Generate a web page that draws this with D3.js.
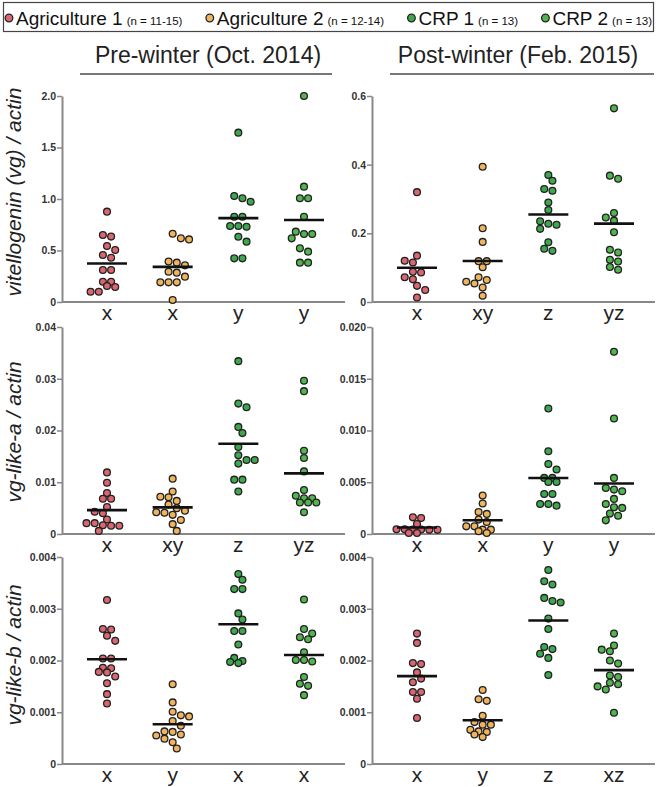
<!DOCTYPE html>
<html><head><meta charset="utf-8">
<script src="https://cdn.jsdelivr.net/npm/d3@7"></script>
<style>
body{margin:0;background:#fff}
svg{display:block;font-family:"Liberation Sans",Arial,sans-serif}
</style>
</head><body><svg id="c" width="658" height="787"></svg>
<script>
// ---------- data ----------
const groups = ["Agriculture 1", "Agriculture 2", "CRP 1", "CRP 2"];
const groupN = ["(n = 11-15)", "(n = 12-14)", "(n = 13)", "(n = 13)"];
const seasons = ["Pre-winter (Oct. 2014)", "Post-winter (Feb. 2015)"];
const genes = ["vitellogenin (vg) / actin", "vg-like-a / actin", "vg-like-b / actin"];

const vgPre = [
  [0.877,0.65,0.635,0.544,0.505,0.457,0.43,0.31,0.31,0.197,0.197,0.155,0.146,0.10,0.10],
  [0.663,0.618,0.608,0.392,0.382,0.356,0.294,0.285,0.246,0.191,0.191,0.191,0.02],
  [1.644,1.029,1.007,0.974,0.828,0.828,0.738,0.738,0.73,0.634,0.586,0.424,0.424],
  [2.0,1.12,1.007,1.007,0.828,0.683,0.66,0.66,0.618,0.521,0.489,0.382,0.382]
];
const vgPost = [
  [0.320,0.135,0.120,0.115,0.088,0.086,0.072,0.066,0.047,0.035,0.013],
  [0.394,0.215,0.175,0.119,0.119,0.101,0.072,0.064,0.059,0.054,0.042,0.018],
  [0.370,0.353,0.329,0.324,0.290,0.268,0.235,0.228,0.225,0.213,0.174,0.155,0.149],
  [0.564,0.368,0.359,0.259,0.246,0.237,0.203,0.152,0.144,0.123,0.118,0.102,0.094]
];
const likeAPre = [
  [0.0119,0.0099,0.0079,0.0068,0.0068,0.0052,0.0043,0.0040,0.0028,0.0021,0.0021,0.0017,0.0016,0.0016,0.0006],
  [0.0107,0.0082,0.0072,0.0071,0.0064,0.0057,0.0050,0.0045,0.0042,0.0041,0.0037,0.0027,0.0019,0.0006],
  [0.0334,0.0252,0.0245,0.0207,0.0195,0.0168,0.0152,0.0143,0.0143,0.0136,0.0105,0.0105,0.0082],
  [0.0296,0.0276,0.0161,0.0147,0.0121,0.0085,0.0074,0.0069,0.0069,0.0061,0.0061,0.0061,0.0042]
];
const likeAPost = [
  [0.00161,0.00155,0.00097,0.00046,0.00043,0.0004,0.0004,0.00043,0.00046,0.0001,0.0001],
  [0.00371,0.00294,0.00213,0.00194,0.00139,0.00116,0.00074,0.00074,0.00042,0.00042,0.00026,0.0001],
  [0.01213,0.008,0.00677,0.00623,0.00542,0.00542,0.00503,0.00503,0.00387,0.00387,0.0029,0.0029,0.00274],
  [0.01761,0.01116,0.00542,0.00445,0.00429,0.00413,0.00339,0.0029,0.00258,0.00252,0.00197,0.00177,0.00132]
];
const likeBPre = [
  [0.00317,0.00261,0.0026,0.00248,0.00238,0.00204,0.00204,0.00186,0.00185,0.00178,0.00177,0.00169,0.00156,0.00135,0.00117],
  [0.00154,0.00119,0.00101,0.00094,0.00092,0.00083,0.00074,0.00063,0.00062,0.00057,0.00055,0.00049,0.00042,0.0003],
  [0.00367,0.00356,0.00338,0.00338,0.00291,0.00279,0.00257,0.00257,0.00231,0.00205,0.00199,0.00197,0.00195],
  [0.00318,0.00261,0.00252,0.00245,0.00241,0.00216,0.00201,0.00201,0.00198,0.00168,0.00155,0.00151,0.00133]
];
const likeBPost = [
  [0.00252,0.00234,0.00195,0.00193,0.00177,0.00165,0.00158,0.00139,0.00139,0.00126,0.00089],
  [0.00143,0.00125,0.00122,0.00093,0.00081,0.00076,0.00076,0.00066,0.00063,0.00062,0.00057,0.00052],
  [0.00375,0.00353,0.00347,0.00321,0.00315,0.00312,0.00281,0.00261,0.00226,0.00222,0.00213,0.00205,0.00172],
  [0.00252,0.00229,0.00221,0.00218,0.002,0.00194,0.00171,0.00168,0.00157,0.00154,0.0015,0.00144,0.00099]
];

const ticksVgPre = [0, 0.5, 1.0, 1.5, 2.0];
const tickLabelsVgPre = ["0", "0.5", "1.0", "1.5", "2.0"];
const ticksVgPost = [0, 0.2, 0.4, 0.6];
const tickLabelsVgPost = ["0", "0.2", "0.4", "0.6"];
const ticksAPre = [0, 0.01, 0.02, 0.03, 0.04];
const tickLabelsAPre = ["0", "0.01", "0.02", "0.03", "0.04"];
const ticksAPost = [0, 0.005, 0.010, 0.015, 0.020];
const tickLabelsAPost = ["0", "0.005", "0.010", "0.015", "0.020"];
const ticksBPre = [0, 0.001, 0.002, 0.003, 0.004];
const tickLabelsBPre = ["0", "0.001", "0.002", "0.003", "0.004"];
const ticksBPost = [0, 0.001, 0.002, 0.003, 0.004];
const tickLabelsBPost = ["0", "0.001", "0.002", "0.003", "0.004"];

const lettersVgPre = ["x", "x", "y", "y"];
const lettersVgPost = ["x", "xy", "z", "yz"];
const lettersAPre = ["x", "xy", "z", "yz"];
const lettersAPost = ["x", "x", "y", "y"];
const lettersBPre = ["x", "y", "x", "x"];
const lettersBPost = ["x", "y", "z", "xz"];

// ---------- styles / layout ----------
const FONT = "'Liberation Sans', Arial, sans-serif";
const colors = ["#dc6670", "#f1b45c", "#3ca84e", "#52b64f"];
const colX = [62, 372];
const rowY = [[96, 302], [327, 534], [557, 764]];
const axisLen = 283;
const R = 3.4;

const panels = [
  {row:0, col:0, data:vgPre, ticks:ticksVgPre, labels:tickLabelsVgPre, letters:lettersVgPre},
  {row:0, col:1, data:vgPost, ticks:ticksVgPost, labels:tickLabelsVgPost, letters:lettersVgPost},
  {row:1, col:0, data:likeAPre, ticks:ticksAPre, labels:tickLabelsAPre, letters:lettersAPre},
  {row:1, col:1, data:likeAPost, ticks:ticksAPost, labels:tickLabelsAPost, letters:lettersAPost},
  {row:2, col:0, data:likeBPre, ticks:ticksBPre, labels:tickLabelsBPre, letters:lettersBPre},
  {row:2, col:1, data:likeBPost, ticks:ticksBPost, labels:tickLabelsBPost, letters:lettersBPost}
];

const svg = d3.select("#c").attr("font-family", FONT);

// ---------- legend ----------
svg.append("rect").attr("x", 3.5).attr("y", 2.5).attr("width", 650).attr("height", 29)
  .attr("fill", "none").attr("stroke", "#444").attr("stroke-width", 1.2);
const legItems = groups.map((g, i) => {
  const lg = svg.append("g");
  lg.append("circle").attr("cx", 0).attr("cy", 18).attr("r", 3.8)
    .attr("fill", colors[i]).attr("stroke", "#222").attr("stroke-width", 1.3);
  const t = lg.append("text").attr("x", 7).attr("y", 24.5).attr("fill", "#111").attr("font-family", FONT);
  t.append("tspan").attr("font-size", 19).text(g);
  t.append("tspan").attr("font-size", 11.5).attr("dx", 4).text(groupN[i]);
  return {g: lg, w: 7 + t.node().getComputedTextLength()};
});
{
  const startX = 9, endX = 648;
  const total = d3.sum(legItems, d => d.w);
  const gap = (endX - startX - total) / (legItems.length - 1);
  let cx = startX;
  legItems.forEach(it => { it.g.attr("transform", `translate(${cx},0)`); cx += it.w + gap; });
}

// ---------- season titles ----------
const titleCx = [208, 518];
const ulines = [[80, 332], [390, 654]];
seasons.forEach((s, i) => {
  svg.append("text").attr("x", titleCx[i]).attr("y", 63).attr("text-anchor", "middle")
    .attr("font-size", 23).attr("fill", "#222").attr("font-family", FONT).text(s);
  svg.append("line").attr("x1", ulines[i][0]).attr("x2", ulines[i][1]).attr("y1", 74).attr("y2", 74)
    .attr("stroke", "#777").attr("stroke-width", 2);
});

// ---------- gene titles ----------
const geneCy = [192, 432, 655];
genes.forEach((g, i) => {
  svg.append("text").attr("transform", `translate(21,${geneCy[i]}) rotate(-90)`)
    .attr("text-anchor", "middle").attr("font-size", 21).attr("font-style", "italic")
    .attr("font-family", FONT).attr("fill", "#222").text(g);
});

// ---------- beeswarm helper ----------
function swarm(vals, y, cx) {
  const s = 8.2, tol = 3.5, minD = 7.0;
  const pts = vals.map(v => ({v, y: y(v)})).sort((a, b) => a.y - b.y);
  const rows = [];
  pts.forEach(p => {
    const last = rows[rows.length - 1];
    if (last && p.y - last[0].y < tol) last.push(p); else rows.push([p]);
  });
  const placed = [];
  const shifts = [0, s/2, -s/2, s, -s, 1.5*s, -1.5*s];
  rows.forEach(row => {
    const k = row.length;
    let best = null, bestD = -1;
    for (const sh of shifts) {
      const xs = row.map((p, i) => (i - (k - 1) / 2) * s + sh);
      let md = Infinity;
      row.forEach((p, i) => placed.forEach(q => { md = Math.min(md, Math.hypot(q.x - xs[i], q.y - p.y)); }));
      if (md >= minD) { best = xs; break; }
      if (Math.abs(sh) <= s / 2 && md > bestD) { bestD = md; best = xs; }
    }
    row.forEach((p, i) => { p.x = best[i]; placed.push(p); });
  });
  return placed.map(p => ({v: p.v, x: cx + p.x, y: p.y}));
}

// ---------- panels ----------
panels.forEach(P => {
  const ax = colX[P.col];
  const [top, bot] = rowY[P.row];
  const y = d3.scaleLinear().domain([0, P.ticks[P.ticks.length - 1]]).range([bot, top]);
  const x = d3.scalePoint().domain(groups).range([ax + 45, ax + 242]);
  const g = svg.append("g");

  // y axis
  const yAx = g.append("g").attr("transform", `translate(${ax},0)`)
    .call(d3.axisLeft(y).tickValues(P.ticks).tickFormat((d, i) => P.labels[i]).tickSize(5).tickSizeOuter(0));
  yAx.attr("font-family", FONT);
  yAx.select(".domain").attr("stroke", "#888").attr("stroke-width", 2);
  yAx.selectAll(".tick line").attr("stroke", "#888").attr("stroke-width", 1.5);
  yAx.selectAll(".tick text").attr("font-size", 10.5).attr("font-weight", "bold")
    .attr("font-family", FONT).attr("fill", "#333").attr("x", -6);

  // x axis line
  g.append("line").attr("x1", ax).attr("x2", ax + axisLen).attr("y1", bot).attr("y2", bot)
    .attr("stroke", "#888").attr("stroke-width", 2);

  // letters
  groups.forEach((grp, gi) => {
    g.append("text").attr("x", x(grp)).attr("y", bot + 18).attr("text-anchor", "middle")
      .attr("font-size", 21).attr("font-family", FONT).attr("fill", "#222").text(P.letters[gi]);
  });

  // dots & means
  groups.forEach((grp, gi) => {
    const vals = P.data[gi];
    const pts = swarm(vals, y, x(grp));
    g.append("g").selectAll("circle").data(pts).join("circle")
      .attr("cx", d => d.x).attr("cy", d => d.y).attr("r", R)
      .attr("fill", colors[gi]).attr("stroke", "#222").attr("stroke-width", 1.3);
    const m = d3.mean(vals);
    g.append("line").attr("x1", x(grp) - 20).attr("x2", x(grp) + 20)
      .attr("y1", y(m)).attr("y2", y(m)).attr("stroke", "#111").attr("stroke-width", 2.6);
  });
});
</script>
</body></html>
